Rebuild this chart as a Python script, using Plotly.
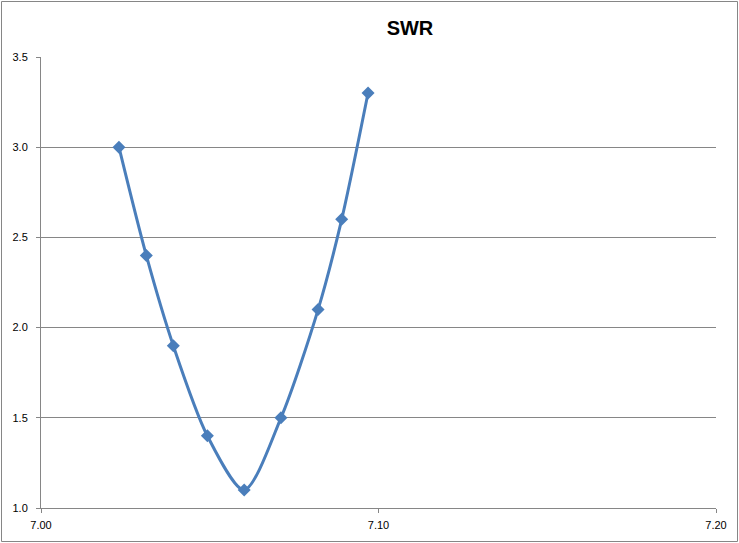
import plotly.graph_objects as go

freq = [7.0231, 7.0312, 7.0392, 7.0493, 7.0602, 7.0711, 7.0821, 7.0891, 7.0969]
swr = [3.0, 2.4, 1.9, 1.4, 1.1, 1.5, 2.1, 2.6, 3.3]
x_ticks = [7.00, 7.10, 7.20]
x_tick_labels = ["7.00", "7.10", "7.20"]
y_ticks = [1.0, 1.5, 2.0, 2.5, 3.0, 3.5]
y_tick_labels = ["1.0", "1.5", "2.0", "2.5", "3.0", "3.5"]

W, H = 739, 543
L, R, T, B = 41, 23, 57, 35
pw, ph = W - L - R, H - T - B

fig = go.Figure()
fig.add_trace(go.Scatter(
    x=freq, y=swr, mode="lines+markers",
    line=dict(color="#4A7EBB", width=3, shape="spline", smoothing=0.8),
    marker=dict(symbol="diamond", size=10, color="#4A7EBB"),
    showlegend=False, hoverinfo="x+y",
))

axis_font = dict(family="Liberation Sans, Arial, sans-serif", size=11, color="#000000")
fig.update_layout(
    width=W, height=H,
    margin=dict(l=L, r=R, t=T, b=B),
    paper_bgcolor="white", plot_bgcolor="white",
    title=dict(text="<b>SWR</b>", x=410 / W, xref="container", xanchor="center",
               y=1 - 28 / H, yref="container", yanchor="middle",
               font=dict(family="Liberation Sans, Arial, sans-serif", size=20, color="#000000")),
    xaxis=dict(range=[7.0, 7.2], tickvals=x_ticks, ticktext=x_tick_labels,
               showgrid=False, zeroline=False, showline=True, linecolor="#868686", linewidth=1,
               ticks="outside", ticklen=4, tickcolor="#868686", tickfont=axis_font, fixedrange=True,
               ticklabelstandoff=3),
    yaxis=dict(range=[1.0, 3.5], tickvals=y_ticks, ticktext=y_tick_labels,
               showgrid=True, gridcolor="#868686", gridwidth=1, zeroline=False,
               showline=True, linecolor="#868686", linewidth=1,
               ticks="outside", ticklen=4, tickcolor="#868686", tickfont=axis_font, fixedrange=True,
               ticklabelstandoff=6),
    shapes=[dict(type="rect", xref="paper", yref="paper",
                 x0=(1.5 - L) / pw, x1=(W - 1.5 - L) / pw,
                 y0=(H - B - (H - 1.5)) / ph, y1=(H - B - 1.5) / ph,
                 line=dict(color="#868686", width=1), layer="below")],
)

fig.write_html("out.html", config={"displayModeBar": False},
               post_script="document.body.style.margin='0';document.body.style.overflow='hidden';")
